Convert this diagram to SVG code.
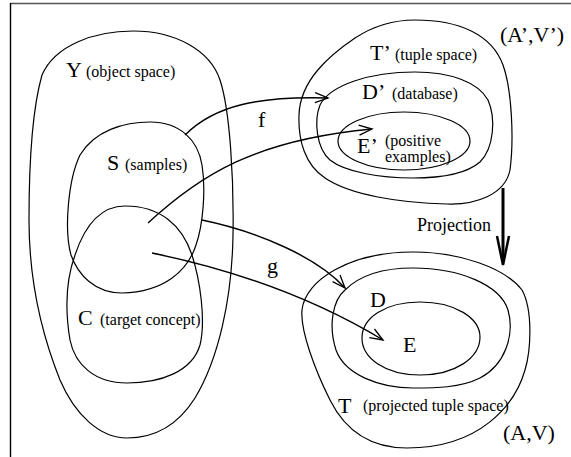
<svg xmlns="http://www.w3.org/2000/svg" width="571" height="457" viewBox="0 0 571 457">
<defs>
<style>
.shape{fill:none;stroke:#000;stroke-width:1.2}
.conn{fill:none;stroke:#000;stroke-width:1.4}
.big{font-family:"Liberation Serif","Times New Roman",serif;font-size:22px;fill:#000}
.small{font-family:"Liberation Serif","Times New Roman",serif;font-size:16px;fill:#000}
</style>
<marker id="arr" markerUnits="userSpaceOnUse" markerWidth="16" markerHeight="12" refX="14" refY="6" orient="auto">
<path d="M1,1 L14,6 L1,11" fill="none" stroke="#000" stroke-width="1.3"/>
</marker>
</defs>
<rect width="571" height="457" fill="#fff"/>
<g id="frame">
<line x1="10" y1="3.5" x2="571" y2="3.5" stroke="#555" stroke-width="1.6"/>
<line x1="10.5" y1="3" x2="10.5" y2="457" stroke="#000" stroke-width="1.4"/>
</g>
<g id="Y">
<path class="shape" d="M 133 31 C 175 31 210 50 220 80 C 230 110 234 180 233 235 C 232 300 218 360 195 398 C 178 425 155 438 127 438 C 100 438 75 415 60 380 C 40 330 29 280 29 220 C 29 160 32 110 42 75 C 55 45 95 31 133 31 Z"/>
<text class="big" x="66" y="77">Y</text><text class="small" x="86" y="77">(object space)</text>
</g>
<g id="S">
<path class="shape" d="M 150 122 C 180 122 198 140 202 165 C 206 190 203 225 196 245 C 188 270 165 292 122 293 C 95 293 78 275 71 255 C 64 230 68 180 80 155 C 95 130 125 122 150 122 Z"/>
<text class="big" x="107" y="170">S</text><text class="small" x="125" y="170">(samples)</text>
</g>
<g id="C">
<path class="shape" d="M 125 206 C 160 206 182 225 192 255 C 200 280 206 320 200 345 C 192 372 160 383 127 383 C 95 383 75 365 70 340 C 65 310 66 280 75 255 C 85 225 100 206 125 206 Z"/>
<text class="big" x="78" y="325">C</text><text class="small" x="100" y="325">(target concept)</text>
</g>
<g id="Tprime">
<path class="shape" d="M 415 20 C 460 20 492 35 503 65 C 512 90 514 140 510 170 C 505 195 475 205 447 204 C 400 203 350 195 325 178 C 305 165 298 140 299 115 C 300 80 330 55 355 38 C 375 25 395 20 415 20 Z"/>
<text class="big" x="370" y="60">T’</text><text class="small" x="395" y="60">(tuple space)</text>
</g>
<g id="AVprime"><text class="big" x="500" y="42">(A’,V’)</text></g>
<g id="Dprime">
<path class="shape" d="M 415 72 C 450 72 478 82 488 100 C 496 118 494 148 480 162 C 465 175 440 178 413 178 C 380 178 345 172 330 160 C 316 148 314 120 320 105 C 330 85 370 72 415 72 Z"/>
<text class="big" x="362" y="99">D’</text><text class="small" x="392" y="99">(database)</text>
</g>
<g id="Eprime">
<ellipse class="shape" cx="404" cy="141" rx="66" ry="29"/>
<text class="big" x="357" y="153">E’</text><text class="small" x="385" y="146">(positive</text><text class="small" x="385" y="162">examples)</text>
</g>
<g id="T">
<path class="shape" d="M 413 252 C 460 252 505 268 522 290 C 533 310 531 350 525 370 C 515 405 480 448 407 448 C 370 448 345 430 330 400 C 315 370 300 330 302 310 C 305 280 350 252 413 252 Z"/>
<text class="big" x="338" y="413">T</text><text class="small" x="363" y="411">(projected tuple space)</text>
</g>
<g id="AV"><text class="big" x="503" y="440">(A,V)</text></g>
<g id="D">
<path class="shape" d="M 413 268 C 460 268 500 285 508 310 C 515 335 505 365 480 378 C 460 388 435 388 413 388 C 380 388 345 375 336 350 C 328 325 333 300 345 290 C 360 275 385 268 413 268 Z"/>
<text class="big" x="370" y="307">D</text>
</g>
<g id="E">
<path class="shape" d="M 420 302 C 455 302 480 318 480 337 C 480 358 455 375 420 375 C 385 375 362 358 362 338 C 362 318 385 302 420 302 Z"/>
<text class="big" x="403" y="352">E</text>
</g>
<g id="connectors">
<path class="conn" d="M 185 135 C 215 105 260 96 328 98" marker-end="url(#arr)"/>
<path class="conn" d="M 148 223 C 200 175 255 140 372 129" marker-end="url(#arr)"/>
<path class="conn" d="M 202 220 C 260 232 318 258 345 288" marker-end="url(#arr)"/>
<path class="conn" d="M 152 253 C 210 265 300 290 383 340" marker-end="url(#arr)"/>
<line x1="503" y1="188" x2="503" y2="262" stroke="#000" stroke-width="3"/>
<path d="M 497 236 L 503 265 L 509 236" fill="none" stroke="#000" stroke-width="2.5"/>
<text class="big" x="258" y="127">f</text>
<text class="big" x="267" y="273">g</text>
<text class="small" x="417" y="231" style="font-size:18px">Projection</text>
</g>
</svg>
